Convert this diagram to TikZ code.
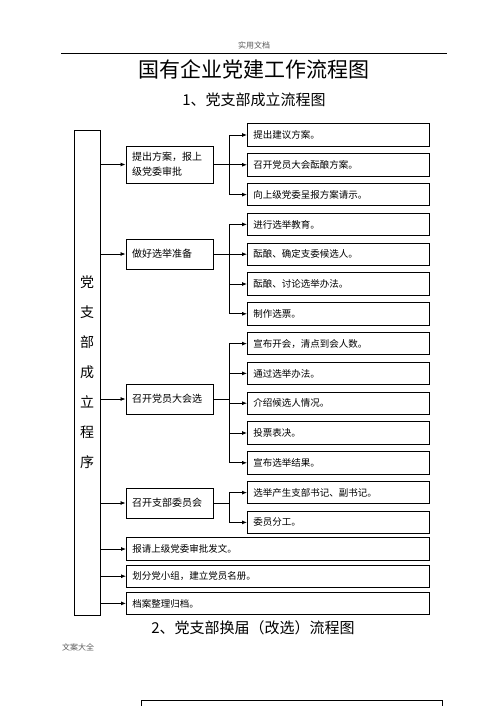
\documentclass[tikz,border=0pt]{standalone}
\usepackage{fontspec}
\setmainfont{Noto Sans CJK SC}
\usepackage{tikz}
\usetikzlibrary{arrows.meta,positioning}
\definecolor{mygray}{RGB}{90,90,90}

\begin{document}
\begin{tikzpicture}[x=1pt,y=-1pt,
  sidebox/.style={draw, line width=0.9pt, minimum width=26pt,
                  minimum height=485pt, inner sep=0pt, align=center,
                  font=\fontsize{14pt}{30pt}\selectfont},
  midbox/.style={draw, line width=0.9pt, minimum width=87pt,
                 minimum height=30pt, text width=75pt, inner xsep=6pt,
                 align=left, font=\fontsize{10pt}{15pt}\selectfont},
  itembox/.style={draw, line width=0.9pt, minimum width=182pt,
                  minimum height=22.5pt, text width=170pt, inner xsep=6pt,
                  align=left, font=\fontsize{9.5pt}{12pt}\selectfont},
  widebox/.style={itembox, minimum width=303pt, text width=291pt},
  note/.style={text=mygray, font=\fontsize{8pt}{8pt}\selectfont},
  arr/.style={-{Latex[length=5pt,width=4pt]}, line width=0.8pt}
]
  \useasboundingbox (0,0) rectangle (500,706);

  \node[note](hdr) at (254,45){实用文档};
  \draw[line width=0.8pt] (61,53) -- (447,53);
  \node[font=\fontsize{21pt}{21pt}\selectfont](title) at (254,69){国有企业党建工作流程图};
  \node[font=\fontsize{15pt}{15pt}\selectfont](sub1) at (254,100){1、党支部成立流程图};

  \node[sidebox](side) at (87,372.5){党\\支\\部\\成\\立\\程\\序};

  \node[midbox, minimum height=37pt](plan) at (169.5,164.5){提出方案，报上\\级党委审批};
  \node[midbox](prep) at (169.5,254){做好选举准备};
  \node[midbox](vote) at (169.5,399){召开党员大会选};
  \node[midbox](cmte) at (169.5,503){召开支部委员会};

  \node[itembox, anchor=west](p1) at (247,135){提出建议方案。};
  \node[itembox, below=6.4pt of p1](p2){召开党员大会酝酿方案。};
  \node[itembox, below=6.4pt of p2](p3){向上级党委呈报方案请示。};
  \node[itembox, below=6.4pt of p3](e1){进行选举教育。};
  \node[itembox, below=6.4pt of e1](e2){酝酿、确定支委候选人。};
  \node[itembox, below=6.4pt of e2](e3){酝酿、讨论选举办法。};
  \node[itembox, below=6.4pt of e3](e4){制作选票。};
  \node[itembox, below=6.4pt of e4](v1){宣布开会，清点到会人数。};
  \node[itembox, below=6.4pt of v1](v2){通过选举办法。};
  \node[itembox, below=6.4pt of v2](v3){介绍候选人情况。};
  \node[itembox, below=6.4pt of v3](v4){投票表决。};
  \node[itembox, below=6.4pt of v4](v5){宣布选举结果。};
  \node[itembox, below=6.4pt of v5](c1){选举产生支部书记、副书记。};
  \node[itembox, below=6.4pt of c1](c2){委员分工。};

  \node[widebox, anchor=west](f1) at (126,549){报请上级党委审批发文。};
  \node[widebox, below=3.8pt of f1](f2){划分党小组，建立党员名册。};
  \node[widebox, below=3.8pt of f2](f3){档案整理归档。};

  \node[font=\fontsize{15pt}{15pt}\selectfont](sub2) at (253,628){2、党支部换届（改选）流程图};
  \node[note](ftr) at (78,647){文案大全};
  \draw[line width=0.9pt] (141,706) |- (442,700) -- (442,706);

  \coordinate (spine) at (229,0);

  \foreach \m in {plan,prep,vote,cmte,f1,f2,f3}
    \draw[arr] (side.east |- \m) -- (\m);

  \foreach \n in {p1,p2,p3}
    \draw[arr] (plan.east) -- (spine |- plan.east) |- (\n.west);
  \foreach \n in {e1,e2,e3,e4}
    \draw[arr] (prep.east) -- (spine |- prep.east) |- (\n.west);
  \foreach \n in {v1,v2,v3,v4,v5}
    \draw[arr] (vote.east) -- (spine |- vote.east) |- (\n.west);
  \foreach \n in {c1,c2}
    \draw[arr] (cmte.east) -- (spine |- cmte.east) |- (\n.west);
\end{tikzpicture}
\end{document}
